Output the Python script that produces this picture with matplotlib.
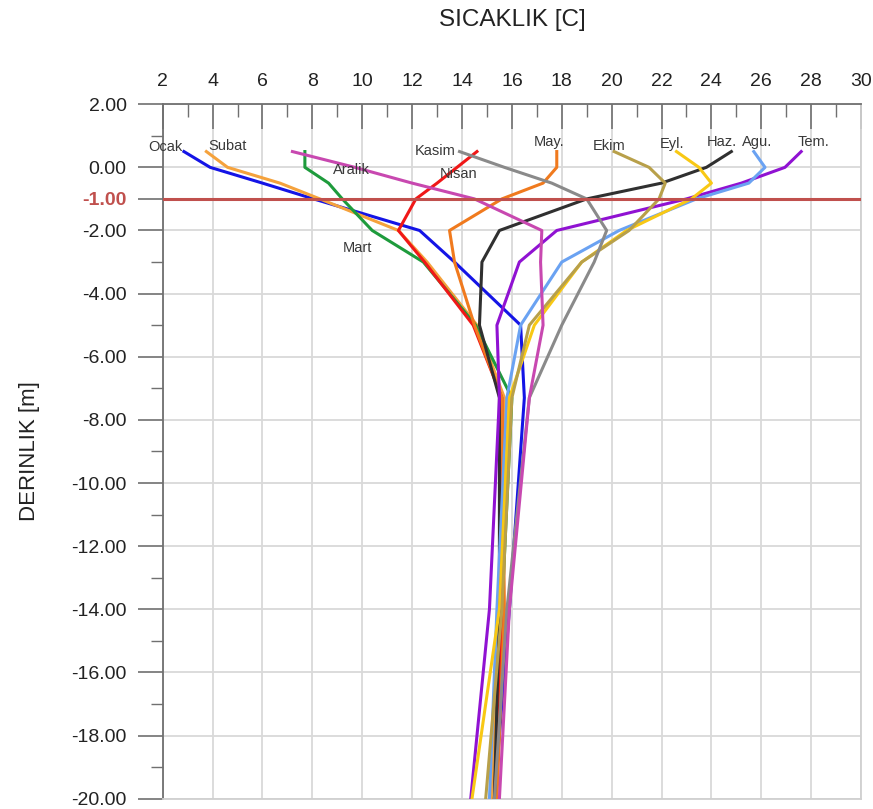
import numpy as np
import matplotlib
matplotlib.use('Agg')
import matplotlib.pyplot as plt

plt.rcParams['font.family'] = ['Liberation Sans', 'DejaVu Sans']
plt.rcParams['axes.unicode_minus'] = False

# depth levels [m] and monthly temperature profiles [C]
depth = [0.5, 0.0, -0.5, -1.0, -2.0, -3.0, -5.0, -7.3, -14.0, -20.0]

ocak    = [2.85, 3.9, 6.0, 8.05, 12.3, 13.7, 16.35, 16.5, 15.9, 15.3]
subat   = [3.75, 4.6, 6.7, 8.3, 11.45, 12.6, 14.6, 15.7, 15.5, 15.2]
mart    = [7.7, 7.7, 8.65, 9.2, 10.4, 12.45, 14.55, 16.0, 15.6, 15.3]
nisan   = [14.6, 13.8, 13.0, 12.15, 11.45, 12.5, 14.45, 15.6, 15.6, 15.3]
mayis   = [17.8, 17.8, 17.25, 15.6, 13.5, 13.7, 14.5, 15.6, 15.7, 15.4]
haziran = [24.8, 23.8, 22.0, 19.0, 15.5, 14.8, 14.7, 15.5, 15.5, 15.3]
temmuz  = [27.6, 26.95, 25.2, 23.0, 17.8, 16.3, 15.4, 15.5, 15.1, 14.35]
agustos = [25.7, 26.15, 25.5, 23.4, 20.3, 18.0, 16.35, 15.8, 15.4, 15.1]
eylul   = [22.6, 23.5, 24.0, 23.2, 20.6, 18.8, 16.9, 15.9, 15.5, 14.4]
ekim    = [20.1, 21.5, 22.15, 21.9, 20.7, 18.8, 16.7, 16.0, 15.6, 14.95]
kasim   = [13.9, 15.7, 17.6, 19.0, 19.8, 19.3, 18.0, 16.7, 15.8, 15.3]
aralik  = [7.2, 9.7, 12.0, 14.5, 17.2, 17.15, 17.25, 16.7, 15.9, 15.5]

months = ['Ocak', 'Subat', 'Mart', 'Nisan', 'May.', 'Haz.',
          'Tem.', 'Agu.', 'Eyl.', 'Ekim', 'Kasim', 'Aralik']
profiles = [ocak, subat, mart, nisan, mayis, haziran,
            temmuz, agustos, eylul, ekim, kasim, aralik]
colors = ['#1414E6', '#F5A23C', '#1E9B3C', '#F01818', '#F07A1E', '#303030',
          '#9012D2', '#6AA2F2', '#F8C814', '#B8A04A', '#8A8A8A', '#C848B0']

# label anchor positions (temperature, depth)
label_T = [2.09, 4.6, 9.81, 13.85, 17.49, 24.4, 28.1, 25.85, 22.44, 19.9, 12.92, 9.58]
label_D = [0.63, 0.68, -2.54, -0.21, 0.79, 0.81, 0.79, 0.81, 0.74, 0.68, 0.53, -0.08]

fig = plt.figure(figsize=(8.73, 8.09), dpi=100)
ax = fig.add_axes([0.1864, 0.0127, 0.7999, 0.8585])

for name, prof, c in zip(months, profiles, colors):
    ax.plot(prof, depth, color=c, lw=2.2, solid_joinstyle='round', zorder=3)

for name, t, d in zip(months, label_T, label_D):
    ax.text(t, d, name, ha='center', va='center', fontsize=10.5,
            color='#383838', zorder=4)

ax.axhline(-1.0, color='#C0504D', lw=2.2, zorder=5)

ax.set_xlim(2, 30)
ax.set_ylim(-20, 2)

ax.xaxis.tick_top()
ax.set_xticks(np.arange(2, 31, 2))
ax.set_xticks(np.arange(3, 30, 2), minor=True)
ax.tick_params(axis='x', which='major', direction='in', length=18, width=1.2,
               color='#707070', pad=10, labelsize=14, labelcolor='#222222')
ax.tick_params(axis='x', which='minor', direction='in', length=9, width=1.0,
               color='#707070')

yt = [2, 0, -1] + list(range(-2, -21, -2))
ax.set_yticks(yt)
ax.set_yticklabels([f'{v:.2f}' for v in yt])
ax.set_yticks([1] + list(range(-3, -20, -2)), minor=True)
ax.tick_params(axis='y', which='major', direction='out', length=18, width=1.2,
               color='#707070', pad=8, labelsize=14, labelcolor='#222222')
ax.tick_params(axis='y', which='minor', direction='out', length=9, width=1.0,
               color='#707070')
for lab, v in zip(ax.get_yticklabels(), yt):
    if v == -1:
        lab.set_color('#C0504D')
        lab.set_fontweight('bold')
for tk, v in zip(ax.yaxis.get_major_ticks(), yt):
    if v == -1:
        tk.tick1line.set_color('#C0504D')

ax.grid(True, which='major', color='#D9D9D9', lw=1.3, zorder=0)
ax.yaxis.grid(False)
for v in range(-20, 3, 2):
    ax.axhline(v, color='#D9D9D9', lw=1.3, zorder=0)

for s in ['left', 'top']:
    ax.spines[s].set_color('#707070')
    ax.spines[s].set_linewidth(1.3)
for s in ['right', 'bottom']:
    ax.spines[s].set_color('#D0D0D0')
    ax.spines[s].set_linewidth(1.3)

fig.text(512 / 873, 1 - 20 / 809, 'SICAKLIK [C]', ha='center', va='center',
         fontsize=17.5, color='#222222')
fig.text(30 / 873, 1 - 451 / 809, 'DERINLIK [m]', ha='center', va='center',
         rotation=90, fontsize=16, color='#222222')

fig.savefig('out.png', dpi=100)
